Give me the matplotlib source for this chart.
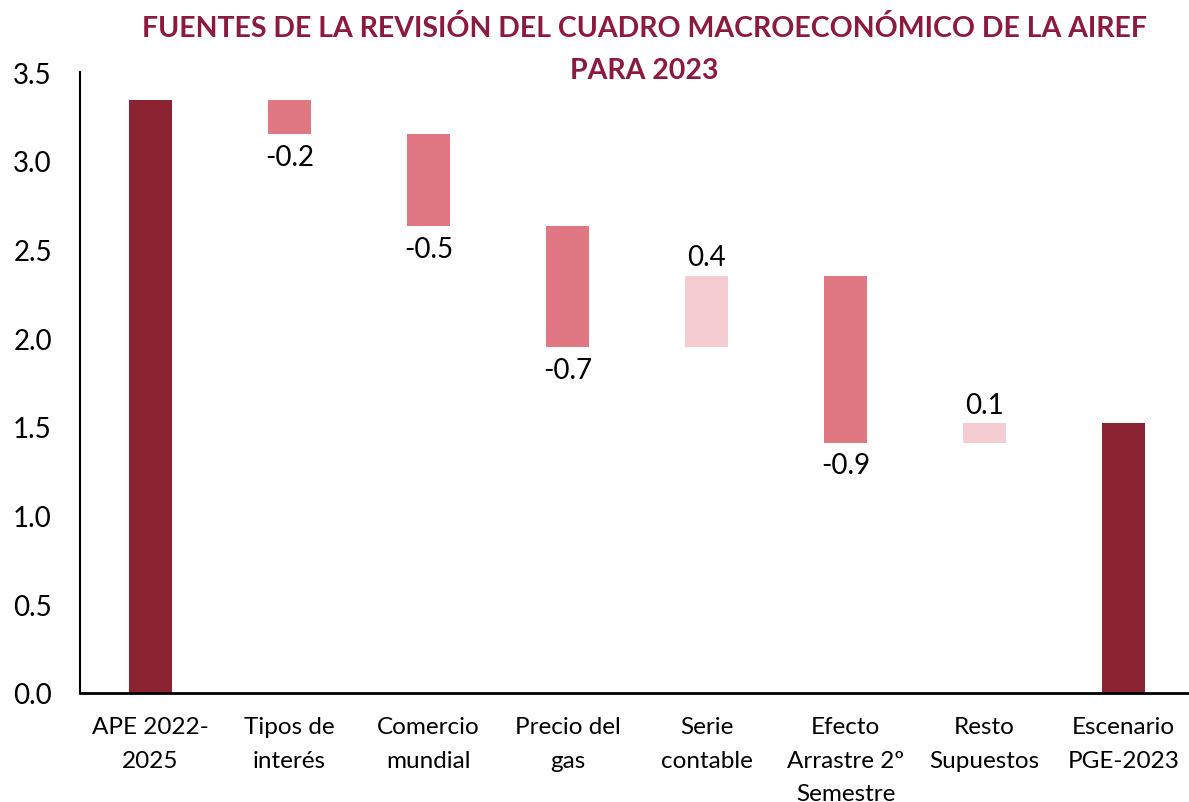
import matplotlib.pyplot as plt
import numpy as np

plt.rcParams['font.family'] = ['Lato', 'DejaVu Sans']

categories = ["APE 2022-\n2025", "Tipos de\ninterés", "Comercio\nmundial", "Precio del\ngas",
              "Serie\ncontable", "Efecto\nArrastre 2º\nSemestre", "Resto\nSupuestos", "Escenario\nPGE-2023"]
start_value = 3.34
changes = [-0.19, -0.52, -0.68, 0.40, -0.94, 0.11]

dark = "#8B2332"
neg_col = "#E07883"
pos_col = "#F4CCD2"
title_col = "#8B1A3C"

# build waterfall
bottoms = []
heights = []
colors = []
level = start_value
bottoms.append(0)
heights.append(start_value)
colors.append(dark)
for c in changes:
    new = level + c
    bottoms.append(min(level, new))
    heights.append(abs(c))
    colors.append(neg_col if c < 0 else pos_col)
    level = new
bottoms.append(0)
heights.append(level)
colors.append(dark)

fig = plt.figure(figsize=(11.89, 8.03), dpi=100)
ax = fig.add_axes([0.067, 0.136, 0.933, 0.773])
x = np.arange(len(categories))
ax.bar(x, heights, bottom=bottoms, width=0.31, color=colors)

# value labels for the changes
level = start_value
for i, c in enumerate(changes, start=1):
    new = level + c
    txt = f"{c:.1f}"
    if c < 0:
        ax.annotate(txt, (i, min(level, new)), xytext=(0, -7), textcoords="offset points",
                    ha="center", va="top", fontsize=20)
    else:
        ax.annotate(txt, (i, max(level, new)), xytext=(0, 4), textcoords="offset points",
                    ha="center", va="bottom", fontsize=20)
    level = new

ax.set_xlim(-0.51, 7.47)
ax.set_ylim(0, 3.5)
ax.set_yticks(np.arange(0, 3.51, 0.5))
ax.set_yticklabels([f"{v:.1f}" for v in np.arange(0, 3.51, 0.5)])
ax.set_xticks(x)
ax.set_xticklabels(categories, fontsize=17.5, linespacing=1.72)
ax.tick_params(axis="y", length=0, pad=20, labelsize=20)
ax.tick_params(axis="x", length=0, pad=17)
for s in ["top", "right"]:
    ax.spines[s].set_visible(False)
ax.spines["left"].set_linewidth(1.5)
ax.spines["bottom"].set_linewidth(2)

fig.text(0.542, 0.965, "FUENTES DE LA REVISIÓN DEL CUADRO MACROECONÓMICO DE LA AIREF",
         ha="center", va="center", fontsize=20.5, fontweight="bold", color=title_col)
fig.text(0.542, 0.912, "PARA 2023", ha="center", va="center", fontsize=20.5,
         fontweight="bold", color=title_col)

fig.savefig("out.png", dpi=100)
